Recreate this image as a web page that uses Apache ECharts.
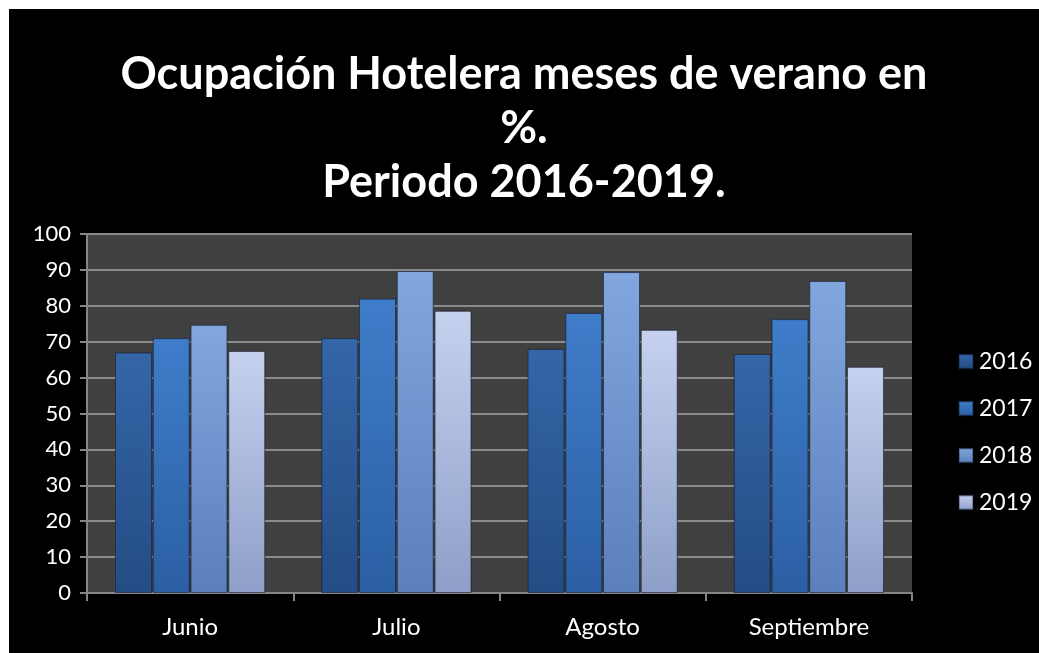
<!DOCTYPE html>
<html>
<head>
<meta charset="utf-8">
<script src="https://cdn.jsdelivr.net/npm/echarts@6/dist/echarts.min.js"></script>
<style>
  html, body { margin: 0; padding: 0; background: #fff; overflow: hidden; }
  #chart { position: absolute; left: 9px; top: 9px; width: 1030px; height: 644px; }
</style>
</head>
<body>
<div id="chart"></div>
<script>
const months = ['Junio', 'Julio', 'Agosto', 'Septiembre']
const years = ['2016', '2017', '2018', '2019']
const values2016 = [67, 71, 68, 66.6]
const values2017 = [71, 82, 78, 76.3]
const values2018 = [74.7, 89.7, 89.4, 86.9]
const values2019 = [67.4, 78.6, 73.3, 63]

// top / bottom shades for each year
const shades = [
  ['#3466a8', '#244c84'],
  ['#3f7dca', '#2b5fa4'],
  ['#82a6de', '#5b80ba'],
  ['#c6d1ef', '#8d9fc8']
]

const font = 'Lato, "Open Sans", sans-serif'

function barStyle(i) {
  return {
    color: new echarts.graphic.LinearGradient(0, 0, 0, 1, [
      { offset: 0, color: shades[i][0] },
      { offset: 1, color: shades[i][1] }
    ]),
    borderColor: 'rgba(20,30,50,0.35)',
    borderWidth: 1
  }
}

const chart = echarts.init(document.getElementById('chart'))

chart.setOption({
  backgroundColor: '#000',
  title: {
    text: 'Ocupación Hotelera meses de verano en\n%.\nPeriodo 2016-2019.',
    left: 'center',
    top: 33,
    textStyle: {
      color: '#fff',
      fontFamily: font,
      fontWeight: 'bold',
      fontSize: 45,
      lineHeight: 54
    }
  },
  legend: {
    orient: 'vertical',
    left: 944,
    top: 336,
    itemGap: 24,
    itemWidth: 14,
    itemHeight: 14,
    icon: 'rect',
    data: years,
    textStyle: { color: '#fff', fontFamily: font, fontSize: 23, padding: [0, 0, 0, 1] }
  },
  grid: {
    left: 78,
    right: 127,
    top: 225,
    bottom: 60
  },
  xAxis: {
    type: 'category',
    data: months,
    axisLine: { lineStyle: { color: '#868686', width: 2 } },
    axisTick: { show: true, length: 8, lineStyle: { color: '#868686', width: 2 } },
    axisLabel: { color: '#fff', fontFamily: font, fontSize: 24, margin: 22 }
  },
  yAxis: {
    type: 'value',
    min: 0,
    max: 100,
    interval: 10,
    axisLine: { show: true, lineStyle: { color: '#868686', width: 2 } },
    axisTick: { show: true, length: 7, lineStyle: { color: '#868686', width: 2 } },
    axisLabel: { color: '#fff', fontFamily: font, fontSize: 22, margin: 16 },
    splitLine: { lineStyle: { color: '#8a8a8a', width: 2 } },
    splitArea: { show: true, areaStyle: { color: ['#404040', '#404040'] } }
  },
  series: [values2016, values2017, values2018, values2019].map((vals, i) => ({
    name: years[i],
    type: 'bar',
    data: vals,
    barWidth: 37,
    barGap: '2%',
    itemStyle: barStyle(i)
  }))
})
</script>
</body>
</html>
